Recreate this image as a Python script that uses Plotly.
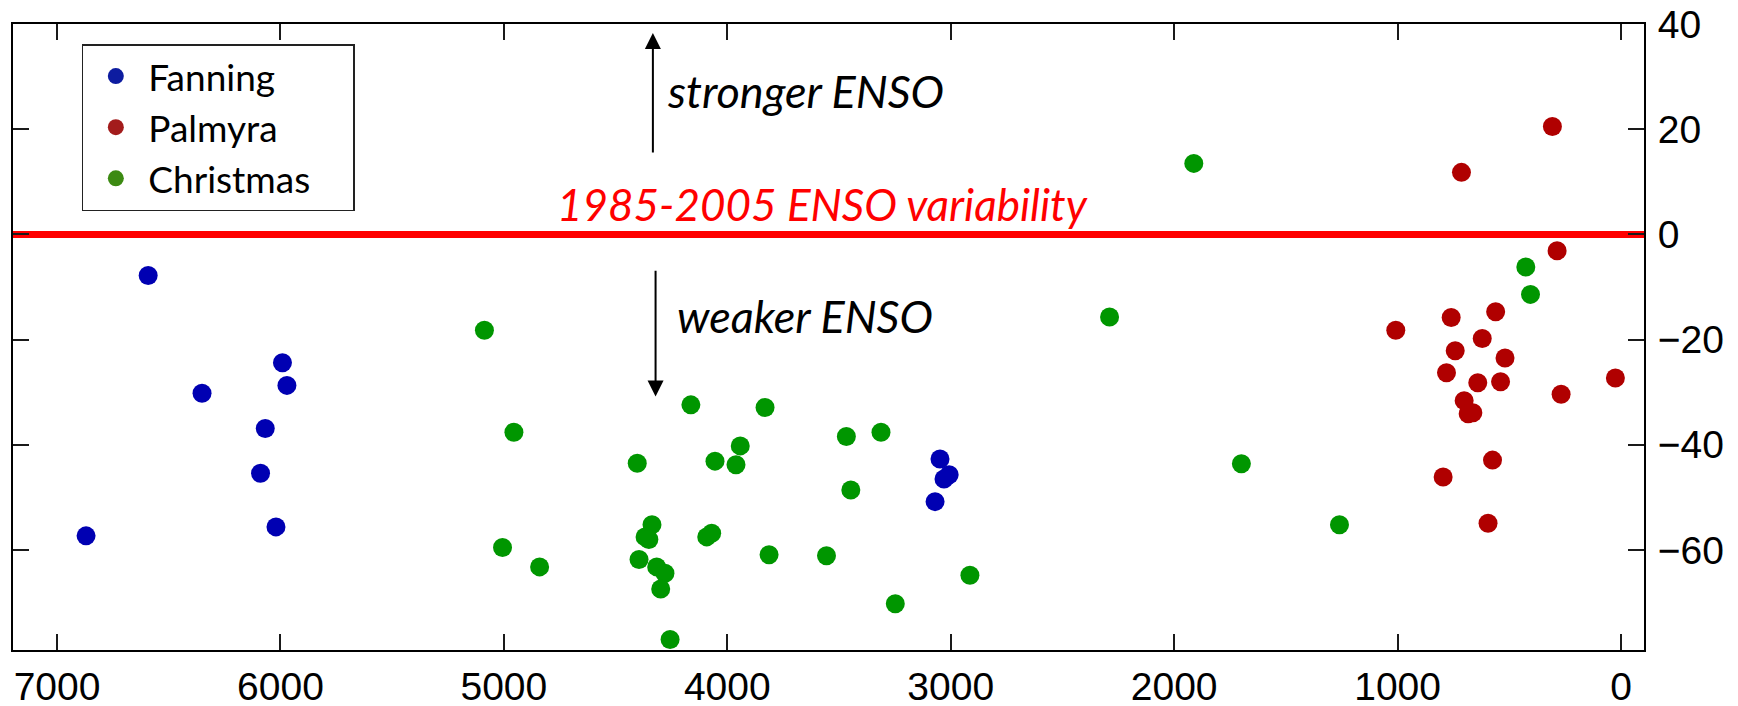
import plotly.graph_objects as go

# ---- data (years BP, % change in ENSO variance) ----
fanning_x = [6592, 5991, 6351, 5971, 6068, 6089, 6020, 6870, 3048, 3030, 3007, 3070]
fanning_y = [-7.8, -24.4, -30.2, -28.7, -36.9, -45.4, -55.6, -57.3, -42.7, -46.5, -45.7, -50.8]

palmyra_x = [307, 714, 286, 760, 561, 1008, 621, 742, 519, 781, 641, 539, 25, 268,
             702, 663, 684, 575, 796, 595]
palmyra_y = [20.5, 11.8, -3.1, -15.8, -14.7, -18.2, -19.8, -22.1, -23.5, -26.3, -28.2,
             -28.0, -27.3, -30.4, -31.6, -33.9, -34.1, -42.9, -46.1, -54.9]

christmas_x = [5087, 2289, 4955, 5006, 4840, 4163, 3831, 3467, 3312, 3942, 4055, 3961,
               4403, 3447, 4337, 4368, 4351, 4092, 4070, 3813, 3556, 4395, 4316, 4279,
               4298, 2914, 3248, 4256, 1912, 426, 405, 1699, 1260]
christmas_y = [-18.2, -15.7, -37.6, -59.5, -63.2, -32.4, -32.9, -38.4, -37.6, -40.2,
               -43.1, -43.8, -43.5, -48.6, -55.2, -57.5, -58.0, -57.5, -56.8, -60.9,
               -61.1, -61.8, -63.2, -64.4, -67.4, -64.8, -70.2, -77.0, 13.5, -6.2,
               -11.4, -43.6, -55.2]

series_names = ["Fanning", "Palmyra", "Christmas"]
point_colors = ["#0000B2", "#B00000", "#009600"]
legend_colors = ["#0D1CA0", "#A31C1C", "#3C8A12"]

x_ticks = [7000, 6000, 5000, 4000, 3000, 2000, 1000, 0]
y_ticks = [40, 20, 0, -20, -40, -60]
reference_level = 0

fig = go.Figure()

for name, xs, ys, col in zip(series_names,
                             [fanning_x, palmyra_x, christmas_x],
                             [fanning_y, palmyra_y, christmas_y],
                             point_colors):
    fig.add_trace(go.Scatter(x=xs, y=ys, mode="markers", name=name, showlegend=False,
                             marker=dict(color=col, size=19, line=dict(width=0))))

# legend entries (padded so the legend frame has the reference's width)
pad = "\u00a0" * 4
for name, col in zip(series_names, legend_colors):
    fig.add_trace(go.Scatter(x=[None], y=[None], mode="markers", name=name + pad,
                             marker=dict(color=col, size=20, line=dict(width=0))))

# reference line
fig.add_shape(type="line", xref="paper", x0=0, x1=1, yref="y",
              y0=reference_level, y1=reference_level,
              line=dict(color="#FF0000", width=7), layer="below")

txt_font = "Lato, 'Open Sans', sans-serif"

fig.add_annotation(x=4773, y=5.8, xref="x", yref="y", xanchor="left", yanchor="middle",
                   text="<i>1985-2005 ENSO variability</i>", showarrow=False,
                   font=dict(family=txt_font, size=44, color="#FF0000"))
fig.add_annotation(x=4278, y=27.2, xref="x", yref="y", xanchor="left", yanchor="middle",
                   text="<i>stronger ENSO</i>", showarrow=False,
                   font=dict(family=txt_font, size=45, color="black"))
fig.add_annotation(x=4235, y=-15.5, xref="x", yref="y", xanchor="left", yanchor="middle",
                   text="<i>weaker ENSO</i>", showarrow=False,
                   font=dict(family=txt_font, size=45, color="black"))

# arrows
fig.add_annotation(x=4333, y=38.3, ax=4333, ay=15.3, xref="x", yref="y",
                   axref="x", ayref="y", text="", showarrow=True,
                   arrowhead=2, arrowsize=1.6, arrowwidth=2, arrowcolor="black", standoff=0)
fig.add_annotation(x=4321, y=-30.8, ax=4321, ay=-6.6, xref="x", yref="y",
                   axref="x", ayref="y", text="", showarrow=True,
                   arrowhead=2, arrowsize=1.6, arrowwidth=2, arrowcolor="black", standoff=0)

axis_common = dict(showline=True, linecolor="black", linewidth=2, mirror="ticks",
                   ticks="inside", ticklen=16, tickwidth=1.6, tickcolor="#1a1a1a",
                   showgrid=False, zeroline=False, automargin=False,
                   ticklabeloverflow="allow",
                   tickfont=dict(family="Liberation Sans, Arial, sans-serif", size=39,
                                 color="black"))

fig.update_xaxes(range=[7197, -103], tickvals=x_ticks,
                 ticktext=[str(v) for v in x_ticks], ticklabelstandoff=1, **axis_common)
fig.update_yaxes(range=[-79, 40], tickvals=y_ticks, side="right",
                 ticklabelstandoff=4, **axis_common)

fig.update_layout(
    template="none",
    width=1738, height=706,
    margin=dict(l=13, r=94, t=24, b=56, pad=0),
    plot_bgcolor="white", paper_bgcolor="white",
    showlegend=True,
    legend=dict(x=0.0422, y=0.968, xanchor="left", yanchor="top",
                bgcolor="white", bordercolor="#222222", borderwidth=1.5,
                itemwidth=55, tracegroupgap=0,
                font=dict(family="Lato, 'Open Sans', sans-serif", size=37, color="black")),
)

# remove the page's default body margin so the figure sits at the window's corner
fig.write_html("out.html", config={"displayModeBar": False},
               post_script="document.body.style.margin='0';document.body.style.overflow='hidden';")
